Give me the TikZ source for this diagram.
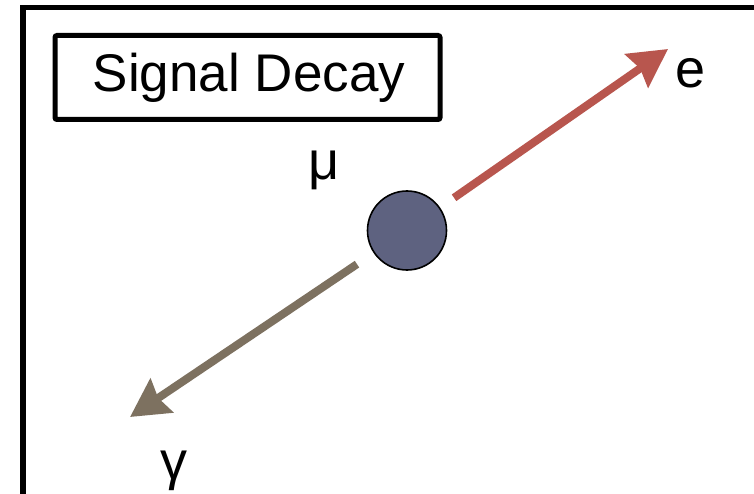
\documentclass[tikz,border=0pt]{standalone}
\usepackage{fontspec}
\setmainfont{Liberation Sans}
\usetikzlibrary{arrows.meta}
\definecolor{eRed}{HTML}{B8564E}
\definecolor{gBrown}{HTML}{7D7160}
\definecolor{muFill}{HTML}{5E6280}
\tikzset{
  frame/.style={draw=black, line width=5.5pt},
  titlebox/.style={draw=black, line width=5pt, rounded corners=2pt},
  particle/.style={circle, draw=black, line width=1.6pt, fill=muFill, minimum size=79pt, inner sep=0pt},
  lbl/.style={font=\fontsize{54}{60}\selectfont, inner sep=0pt},
  track/.style={line width=8pt, -{Stealth[inset=4pt, length=38pt, width=40pt]}},
}
\begin{document}
\begin{tikzpicture}[x=1pt, y=-1pt]
\useasboundingbox (0,0) rectangle (754,494);
\clip (0,0) rectangle (754,494);
\fill[white] (0,0) rectangle (754,494);
\draw[frame] (23,7.5) rectangle (780,520);
\draw[titlebox] (55,35.5) rectangle (440,119.5);
\node[font=\fontsize{53}{60}\selectfont, inner sep=0pt] (title) at (249,78) {Signal Decay};
\node[particle] (mu) at (407,230.5) {};
\coordinate (etip) at (668,49);
\coordinate (gtip) at (130,417);
\draw[track, eRed, shorten <=17pt] (mu) -- (etip);
\draw[track, gBrown, shorten <=20pt] (mu) -- (gtip);
\node[lbl, anchor=base] (elbl) at (691,88) {e};
\node[lbl, anchor=base] (mulbl) at (324,180) {μ};
\node[lbl, anchor=base] (glbl) at (174,479) {γ};
\end{tikzpicture}
\end{document}
